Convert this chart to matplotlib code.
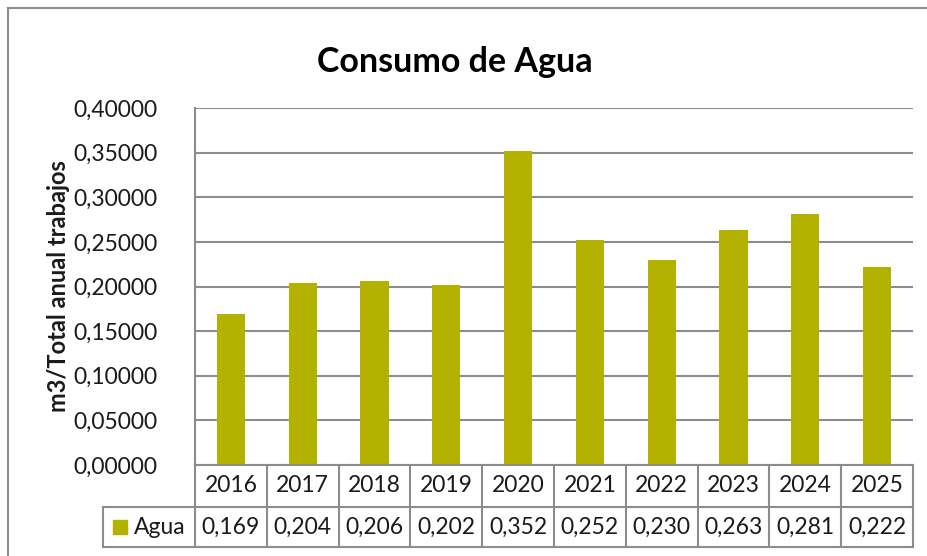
import matplotlib
matplotlib.use("Agg")
import matplotlib.pyplot as plt
from matplotlib.lines import Line2D
from matplotlib.patches import Rectangle

years = ["2016", "2017", "2018", "2019", "2020", "2021", "2022", "2023", "2024", "2025"]
agua = [0.169, 0.204, 0.206, 0.202, 0.352, 0.252, 0.230, 0.263, 0.281, 0.222]
yticks = [0.0, 0.05, 0.10, 0.15, 0.20, 0.25, 0.30, 0.35, 0.40]
series_name = "Agua"
title = "Consumo de Agua"
ylabel = "m3/Total anual trabajos"

plt.rcParams['font.family'] = ['Lato', 'DejaVu Sans']
bar_color = "#b4b200"
line_color = "#8c8c8c"
text_color = "#1a1a1a"

W, H = 928, 556
fig = plt.figure(figsize=(W / 100, H / 100), dpi=100)

# outer chart border (only top and left visible)
fig.add_artist(Line2D([8 / W, 8 / W], [0, 1 - 8 / H], color=line_color, lw=1.5, transform=fig.transFigure))
fig.add_artist(Line2D([8 / W, 1], [1 - 8 / H, 1 - 8 / H], color=line_color, lw=1.5, transform=fig.transFigure))

left, right, top, bottom = 195, 913, 108, 465
ax = fig.add_axes([left / W, 1 - bottom / H, (right - left) / W, (bottom - top) / H])

x = list(range(len(years)))
ax.bar(x, agua, width=0.39, color=bar_color, zorder=3)
ax.set_xlim(-0.5, len(years) - 0.5)
ax.set_ylim(0, 0.40)
ax.set_yticks(yticks)
ax.set_yticklabels([f"{v:.5f}".replace(".", ",") for v in yticks], fontsize=16.5, color=text_color)
ax.tick_params(axis='y', length=0, pad=27)
ax.tick_params(axis='x', length=0, labelbottom=False)
ax.grid(axis='y', color=line_color, lw=1.5, zorder=0)
for s in ['top', 'right', 'bottom']:
    ax.spines[s].set_visible(False)
ax.spines['left'].set_color(line_color)
ax.spines['left'].set_linewidth(1.5)
ax.set_ylabel(ylabel, fontsize=17, fontweight='bold', color=text_color, labelpad=2)

fig.text(455 / W, 1 - 62 / H, title, fontsize=24.5, fontweight='bold', ha='center', va='center', color='black')

# data table
ah = bottom - top
aw = right - left
r1 = -(507 - bottom) / ah
r2 = -(547 - bottom) / ah
lab_left = -(left - 103) / aw
tr = ax.get_xaxis_transform()
lk = dict(color=line_color, lw=1.5, clip_on=False, zorder=5)
ax.plot([-0.5, len(years) - 0.5], [0, 0], transform=tr, **lk)
ax.plot([0, 1], [r1, r1], transform=ax.transAxes, **lk)
ax.plot([lab_left, 0], [r1, r1], transform=ax.transAxes, **lk)
ax.plot([lab_left, 1], [r2, r2], transform=ax.transAxes, **lk)
ax.plot([lab_left, lab_left], [r1, r2], transform=ax.transAxes, **lk)
ax.plot([0, 0], [0, r2], transform=ax.transAxes, **lk)
for i in range(len(years)):
    ax.plot([i + 0.5, i + 0.5], [0, r2], transform=tr, **lk)
for i, (yr, v) in enumerate(zip(years, agua)):
    ax.text(i, r1 / 2, yr, transform=tr, ha='center', va='center', fontsize=16.5, color=text_color, clip_on=False)
    ax.text(i, (r1 + r2) / 2, f"{v:.3f}".replace(".", ","), transform=tr, ha='center', va='center',
            fontsize=16.5, color=text_color, clip_on=False)
# legend key + name
kx = lab_left + 10 / aw
ky = (r1 + r2) / 2
ax.add_patch(Rectangle((kx, ky - 7 / ah), 14 / aw, 14 / ah, transform=ax.transAxes, color=bar_color, clip_on=False))
ax.text(kx + 21 / aw, ky, series_name, transform=ax.transAxes, ha='left', va='center', fontsize=16.5,
        color=text_color, clip_on=False)

fig.savefig("out.png", dpi=100)
